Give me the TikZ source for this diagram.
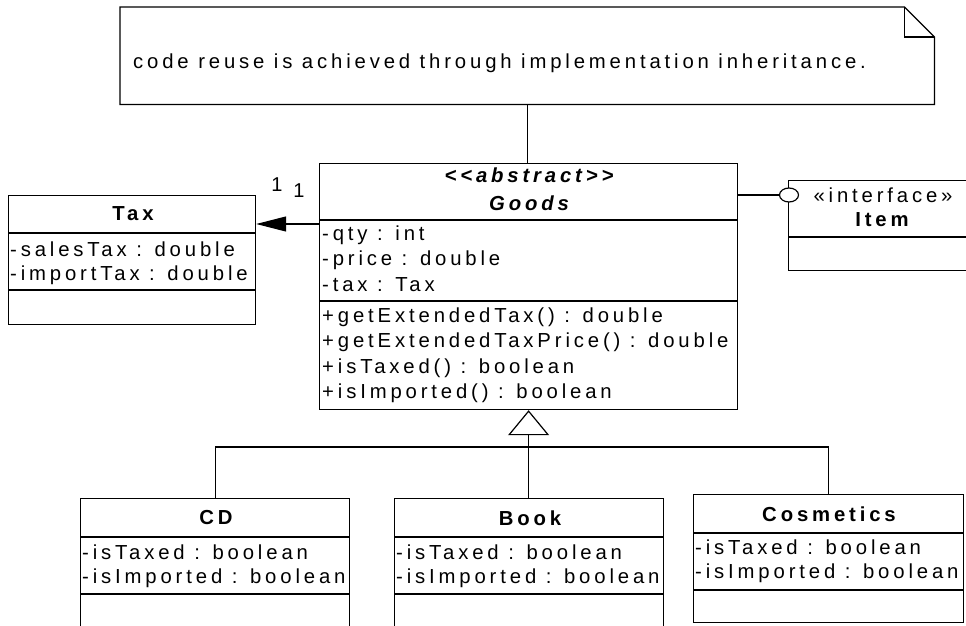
\documentclass[tikz,border=0pt]{standalone}
\usepackage{fontspec}
\setmainfont{Liberation Sans}[LetterSpace=19]
\usetikzlibrary{arrows.meta,shapes.geometric}
\begin{document}
\begin{tikzpicture}[x=1pt,y=-1pt,
  ln/.style={line width=1.2pt, draw=black},
  box/.style={draw=black, line width=1.2pt, inner sep=0pt, anchor=north west, fill=white},
  txt/.style={inner sep=0pt, anchor=west, font=\fontsize{20.3}{24}\selectfont},
  ctxt/.style={inner sep=0pt, font=\fontsize{20.3}{24}\selectfont},
  btxt/.style={inner sep=0pt, font=\fontsize{20.3}{24}\selectfont\bfseries},
  mult/.style={inner sep=0pt, font=\fontsize{20}{24}\selectfont}]
\useasboundingbox (0,0) rectangle (966,626);
\clip (0,0) rectangle (966,626);
\fill[white] (0,0) rectangle (966,626);

% note
\node[inner sep=0pt, minimum width=814pt, minimum height=97pt, anchor=north west] (note) at (120,7) {};
\draw[ln, fill=white] (note.south west) -- (note.north west) -- ([xshift=-30pt]note.north east)
  -- ([yshift=-30pt]note.north east) -- (note.south east) -- cycle;
\draw[ln] ([xshift=-30pt]note.north east) |- ([yshift=-30pt]note.north east);
\node[txt] (notetext) at (133,63) {code reuse is achieved through implementation inheritance.};

% Goods
\node[box, minimum width=418pt, minimum height=246pt] (goods) at (319,163) {};
\draw[ln] (goods.west |- 0,220) -- (goods.east |- 0,220);
\draw[ln] (goods.west |- 0,301) -- (goods.east |- 0,301);
\node[ctxt, font=\fontsize{20.3}{24}\selectfont\bfseries\itshape] (gst) at (529,175) {<{}<abstract>{}>};
\node[ctxt, font=\fontsize{20.3}{24}\selectfont\bfseries\itshape] (gname) at (529,203) {Goods};
\node[txt] (ga1) at (322,235) {-qty : int};
\node[txt] (ga2) at (322,260) {-price : double};
\node[txt] (ga3) at (322,285) {-tax : Tax};
\node[txt] (gm1) at (322,317) {+getExtendedTax() : double};
\node[txt] (gm2) at (322,342) {+getExtendedTaxPrice() : double};
\node[txt] (gm3) at (322,368) {+isTaxed() : boolean};
\node[txt] (gm4) at (322,393) {+isImported() : boolean};

% Tax
\node[box, minimum width=247pt, minimum height=129pt] (tax) at (8,195) {};
\draw[ln] (tax.west |- 0,233) -- (tax.east |- 0,233);
\draw[ln] (tax.west |- 0,290) -- (tax.east |- 0,290);
\node[btxt] (taxname) at (133,214) {Tax};
\node[txt] (ta1) at (10,249) {-salesTax : double};
\node[txt] (ta2) at (10,275) {-importTax : double};

% Item
\node[box, minimum width=184pt, minimum height=90pt] (item) at (788,180) {};
\draw[ln] (item.west |- 0,237) -- (item.east |- 0,237);
\node[ctxt] (ist) at (883,195) {«interface»};
\node[btxt] (iname) at (882,220) {Item};

% CD
\node[box, minimum width=269pt, minimum height=160pt] (cd) at (80,498) {};
\draw[ln] (cd.west |- 0,537) -- (cd.east |- 0,537);
\draw[ln] (cd.west |- 0,594) -- (cd.east |- 0,594);
\node[btxt] (cdname) at (216,518) {CD};
\node[txt] (cda1) at (82,552) {-isTaxed : boolean};
\node[txt] (cda2) at (82,578) {-isImported : boolean};

% Book
\node[box, minimum width=269pt, minimum height=160pt] (book) at (394,498) {};
\draw[ln] (book.west |- 0,537) -- (book.east |- 0,537);
\draw[ln] (book.west |- 0,594) -- (book.east |- 0,594);
\node[btxt] (bkname) at (530,518) {Book};
\node[txt] (bka1) at (396,552) {-isTaxed : boolean};
\node[txt] (bka2) at (396,578) {-isImported : boolean};

% Cosmetics
\node[box, minimum width=270pt, minimum height=128pt] (cos) at (693,494) {};
\draw[ln] (cos.west |- 0,533) -- (cos.east |- 0,533);
\draw[ln] (cos.west |- 0,590) -- (cos.east |- 0,590);
\node[btxt] (cosname) at (829,514) {Cosmetics};
\node[txt] (cosa1) at (695,547) {-isTaxed : boolean};
\node[txt] (cosa2) at (695,573) {-isImported : boolean};

% connectors
\draw[ln] (note.south) -- (note.south |- goods.north);

\coordinate (assocy) at (0,224);
\draw[ln, -{Triangle[length=30pt, width=15pt]}] (goods.west |- assocy) -- (tax.east |- assocy);
\node[mult] (m1) at (277,185) {1};
\node[mult] (m2) at (299,190.5) {1};

\node[draw=black, line width=1.2pt, fill=white, ellipse, inner sep=0pt, minimum width=19pt, minimum height=14pt] (lolli) at (789,195) {};
\draw[ln] (goods.east |- lolli) -- (lolli.west);

\coordinate (bar) at (0,447);
\draw[ln] (cd.north) |- (cos.north |- bar) -- (cos.north);
\draw[ln, -{Triangle[open, length=25pt, width=41pt]}] (book.north -| goods.south) -- (goods.south);
\end{tikzpicture}
\end{document}
